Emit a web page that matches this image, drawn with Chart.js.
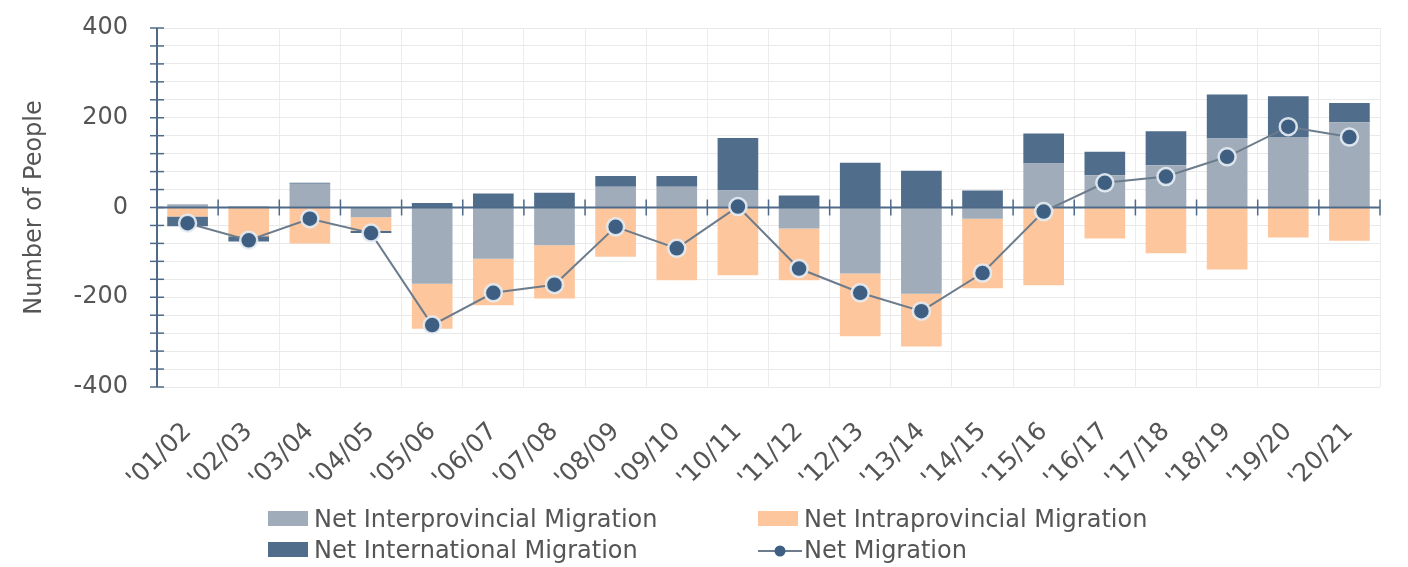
<!DOCTYPE html>
<html>
<head>
<meta charset="utf-8">
<script src="https://cdn.jsdelivr.net/npm/chart.js@4.4.1/dist/chart.umd.min.js"></script>
<style>
  html, body { margin: 0; padding: 0; background: #ffffff; }
  #wrap { position: relative; width: 1408px; height: 567px; }
  #chart { position: absolute; left: 0; top: 0; }
  .leg { position: absolute; font-family: "DejaVu Sans", sans-serif; font-size: 24px; color: #555555;
         white-space: nowrap; line-height: 24px; }
  .leg .sw { position: absolute; left: 0; top: 4px; width: 40px; height: 15px; }
  .leg .txt { position: absolute; left: 46px; top: 0; }
  .leg canvas { position: absolute; left: 0; top: 0; }
</style>
</head>
<body>
<div id="wrap">
  <canvas id="chart" width="1408" height="567"></canvas>
  <div id="legend"></div>
</div>
<script>
// Fiscal years
const years = ["'01/02", "'02/03", "'03/04", "'04/05", "'05/06", "'06/07", "'07/08", "'08/09", "'09/10", "'10/11",
               "'11/12", "'12/13", "'13/14", "'14/15", "'15/16", "'16/17", "'17/18", "'18/19", "'19/20", "'20/21"];

// Components of net migration (people)
const interprovincial = [7, 3, 53, -22, -170, -114, -84, 46, 46, 38, -47, -147, -192, -25, 98, 72, 94, 154, 157, 190];
const intraprovincial = [-20, -64, -80, -30, -100, -104, -119, -110, -162, -151, -115, -140, -118, -155, -173, -69, -102, -138, -67, -74];
const international   = [-22, -12, 2, -5, 10, 31, 33, 24, 24, 117, 27, 100, 82, 38, 67, 52, 76, 98, 91, 43];
const netMigration    = [-35, -73, -25, -57, -262, -190, -172, -43, -91, 2, -136, -190, -231, -146, -9, 55, 69, 113, 180, 157];

// Value axis labels shown every 200
const yLabels = [-400, -200, 0, 200, 400];

const FONT = "DejaVu Sans";
const AXIS = "#4f6a88";
const C_INTER = "#a0acba";
const C_INTRA = "#fdc69c";
const C_INTL  = "#506d8c";
const C_LINE  = "#6c7c8c";
const C_POINT = "#3e5f81";

// Axis lines with crossing tick marks: vertical axis at the left, horizontal axis through zero
const axisPlugin = {
  id: 'crossAxes',
  beforeDatasetDraw(chart, args) {
    if (chart.data.datasets[args.index].type !== 'line') return;
    const { ctx, chartArea: a, scales: { x, y } } = chart;
    ctx.save();
    ctx.strokeStyle = AXIS;
    ctx.lineWidth = 2;
    // vertical axis
    ctx.beginPath();
    ctx.moveTo(a.left, a.top);
    ctx.lineTo(a.left, a.bottom);
    ctx.stroke();
    ctx.lineWidth = 1.5;
    y.ticks.forEach(t => {
      const py = y.getPixelForValue(t.value);
      ctx.beginPath();
      ctx.moveTo(a.left - 7, py);
      ctx.lineTo(a.left + 7, py);
      ctx.stroke();
    });
    // zero line
    const y0 = y.getPixelForValue(0);
    ctx.lineWidth = 2;
    ctx.beginPath();
    ctx.moveTo(a.left, y0);
    ctx.lineTo(a.right, y0);
    ctx.stroke();
    ctx.lineWidth = 1.5;
    const half = (x.getPixelForValue(1) - x.getPixelForValue(0)) / 2;
    for (let i = 0; i <= years.length; i++) {
      const px = x.getPixelForValue(i) - half;
      ctx.beginPath();
      ctx.moveTo(px, y0 - 8);
      ctx.lineTo(px, y0 + 8);
      ctx.stroke();
    }
    ctx.restore();
  }
};

const chart = new Chart(document.getElementById('chart'), {
  data: {
    labels: years,
    datasets: [
      { type: 'bar', label: 'Net Interprovincial Migration', data: interprovincial,
        backgroundColor: C_INTER, stack: 'm', order: 2 },
      { type: 'bar', label: 'Net Intraprovincial Migration', data: intraprovincial,
        backgroundColor: C_INTRA, stack: 'm', order: 2 },
      { type: 'bar', label: 'Net International Migration', data: international,
        backgroundColor: C_INTL, stack: 'm', order: 2 },
      { type: 'line', label: 'Net Migration', data: netMigration, order: 1,
        borderColor: C_LINE, borderWidth: 2, tension: 0,
        pointRadius: 8.5, pointBackgroundColor: C_POINT,
        pointBorderColor: 'rgba(232,238,245,0.9)', pointBorderWidth: 2.5 }
    ]
  },
  options: {
    responsive: false,
    animation: false,
    layout: { padding: { top: 28, right: 28, bottom: 0, left: 0 } },
    datasets: { bar: { categoryPercentage: 1, barPercentage: 0.665 } },
    plugins: { legend: { display: false }, tooltip: { enabled: false } },
    scales: {
      x: {
        stacked: true,
        border: { display: false },
        grid: { color: '#ececec', lineWidth: 1, drawTicks: false, offset: true },
        ticks: { color: '#555555', font: { family: FONT, size: 25 }, maxRotation: 45, minRotation: 45,
                 autoSkip: false, padding: 30 },
        afterFit(scale) { scale.height = 180; }
      },
      y: {
        stacked: true,
        min: -400, max: 400,
        border: { display: false },
        grid: { color: '#e9e9e9', lineWidth: 1, drawTicks: true, tickLength: 29, tickColor: 'rgba(0,0,0,0)' },
        ticks: {
          stepSize: 40,
          autoSkip: false,
          color: '#555555',
          font: { family: FONT, size: 24 },
          padding: 0,
          callback: v => (yLabels.includes(v) ? String(v) : '')
        },
        title: { display: true, text: 'Number of People', color: '#555555',
                 font: { family: FONT, size: 24 }, padding: { top: 20, bottom: 0 } },
        afterFit(scale) { scale.width = 157; }
      }
    }
  },
  plugins: [axisPlugin]
});

// Two-column legend under the plot
const legendEl = document.getElementById('legend');
const spots = [[268, 507], [758, 507], [268, 538], [758, 538]];
chart.data.datasets.forEach((ds, k) => {
  const item = document.createElement('div');
  item.className = 'leg';
  item.style.left = spots[k][0] + 'px';
  item.style.top = spots[k][1] + 'px';
  if (ds.type === 'bar') {
    const sw = document.createElement('div');
    sw.className = 'sw';
    sw.style.background = ds.backgroundColor;
    item.appendChild(sw);
  } else {
    const c = document.createElement('canvas');
    c.width = 46; c.height = 24;
    const g = c.getContext('2d');
    g.strokeStyle = ds.borderColor; g.lineWidth = 2;
    g.beginPath(); g.moveTo(0, 13); g.lineTo(44, 13); g.stroke();
    g.fillStyle = ds.pointBackgroundColor;
    g.beginPath(); g.arc(22, 13, 5.5, 0, Math.PI * 2); g.fill();
    item.appendChild(c);
  }
  const t = document.createElement('span');
  t.className = 'txt';
  t.textContent = ds.label;
  item.appendChild(t);
  legendEl.appendChild(item);
});
</script>
</body>
</html>
